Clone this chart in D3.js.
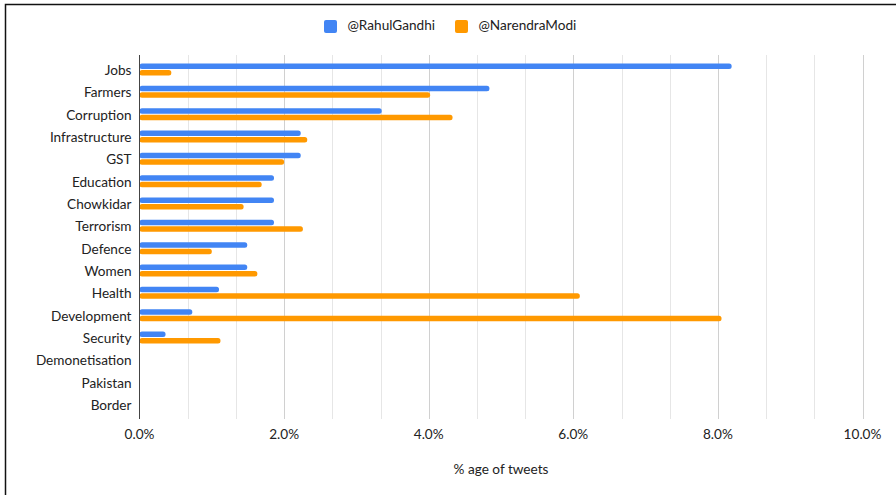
<!DOCTYPE html>
<html>
<head>
<meta charset="utf-8">
<script src="https://cdn.jsdelivr.net/npm/d3@7"></script>
<style>
  html, body { margin: 0; padding: 0; background: #fff; }
  svg { display: block; }
  text { font-family: Lato, "Open Sans", sans-serif; fill: #222; }
</style>
</head>
<body>
<svg id="chart" width="896" height="495"></svg>
<script>
// Share of each account's tweets mentioning a topic (percent)
const topics = ["Jobs", "Farmers", "Corruption", "Infrastructure", "GST", "Education",
  "Chowkidar", "Terrorism", "Defence", "Women", "Health", "Development", "Security",
  "Demonetisation", "Pakistan", "Border"];
const rahulGandhi = [8.19, 4.84, 3.35, 2.23, 2.23, 1.86, 1.86, 1.86, 1.49, 1.49, 1.10, 0.73, 0.36, 0, 0, 0];
const narendraModi = [0.44, 4.02, 4.33, 2.32, 2.00, 1.69, 1.44, 2.26, 1.00, 1.63, 6.09, 8.05, 1.12, 0, 0, 0];
const seriesNames = ["@RahulGandhi", "@NarendraModi"];
const seriesColors = ["#4285F4", "#FF9900"];
const xTicks = [0, 2, 4, 6, 8, 10];
const xTitle = "% age of tweets";

const svg = d3.select("#chart");
const fontSize = 13.6;

// outer frame (only top and left edges visible)
svg.append("rect")
  .attr("x", 5.5).attr("y", 4.5)
  .attr("width", 1000).attr("height", 1000)
  .attr("fill", "none").attr("stroke", "#111").attr("stroke-width", 1.5);

const plot = { left: 139.5, right: 862.5, top: 55, bottom: 419 };

const x = d3.scaleLinear().domain([0, 10]).range([plot.left, plot.right]);
const y = d3.scaleBand().domain(topics).range([plot.top, plot.bottom]).paddingOuter(0.15).paddingInner(0);

// gridlines: minor every 2/3 %, major at labelled ticks
const grid = d3.range(1, 16).map(i => i * 10 / 15);
svg.append("g").selectAll("line").data(grid).join("line")
  .attr("x1", d => Math.round(x(d)) + 0.5).attr("x2", d => Math.round(x(d)) + 0.5)
  .attr("y1", plot.top).attr("y2", plot.bottom)
  .attr("stroke", (d, i) => ((i + 1) % 3 === 0) ? "#d0d0d0" : "#e6e6e6")
  .attr("stroke-width", 1);

// bars
const barH = 5.5;
const groups = svg.append("g").selectAll("g").data(topics).join("g")
  .attr("transform", d => `translate(0,${y(d) + y.bandwidth() / 2})`);

[rahulGandhi, narendraModi].forEach((vals, s) => {
  groups.filter((d, i) => vals[i] > 0).append("rect")
    .attr("x", x(0))
    .attr("y", s === 0 ? -barH - 0.5 : 0.5)
    .attr("width", (d) => x(vals[topics.indexOf(d)]) - x(0))
    .attr("height", barH)
    .attr("rx", 2.5).attr("ry", 2.5)
    .attr("fill", seriesColors[s]);
});

// baseline axis
svg.append("line")
  .attr("x1", plot.left).attr("x2", plot.left)
  .attr("y1", plot.top).attr("y2", plot.bottom)
  .attr("stroke", "#444").attr("stroke-width", 1);

// category labels
svg.append("g").selectAll("text").data(topics).join("text")
  .attr("x", plot.left - 8)
  .attr("y", d => y(d) + y.bandwidth() / 2 + 2)
  .attr("text-anchor", "end")
  .attr("dominant-baseline", "middle")
  .attr("font-size", fontSize)
  .text(d => d);

// x tick labels
svg.append("g").selectAll("text").data(xTicks).join("text")
  .attr("x", d => x(d))
  .attr("y", 436)
  .attr("text-anchor", "middle")
  .attr("dominant-baseline", "middle")
  .attr("font-size", fontSize)
  .text(d => d3.format(".1f")(d) + "%");

// x axis title
svg.append("text")
  .attr("x", (plot.left + plot.right) / 2)
  .attr("y", 471)
  .attr("text-anchor", "middle")
  .attr("dominant-baseline", "middle")
  .attr("font-size", fontSize)
  .text(xTitle);

// legend
const legendX = [324, 455];
const legend = svg.append("g").selectAll("g").data(seriesNames).join("g")
  .attr("transform", (d, i) => `translate(${legendX[i]},20)`);
legend.append("rect")
  .attr("width", 13).attr("height", 13).attr("rx", 2)
  .attr("fill", (d, i) => seriesColors[i]);
legend.append("text")
  .attr("x", 23.5).attr("y", 7)
  .attr("dominant-baseline", "middle")
  .attr("font-size", fontSize)
  .text(d => d);
</script>
</body>
</html>
